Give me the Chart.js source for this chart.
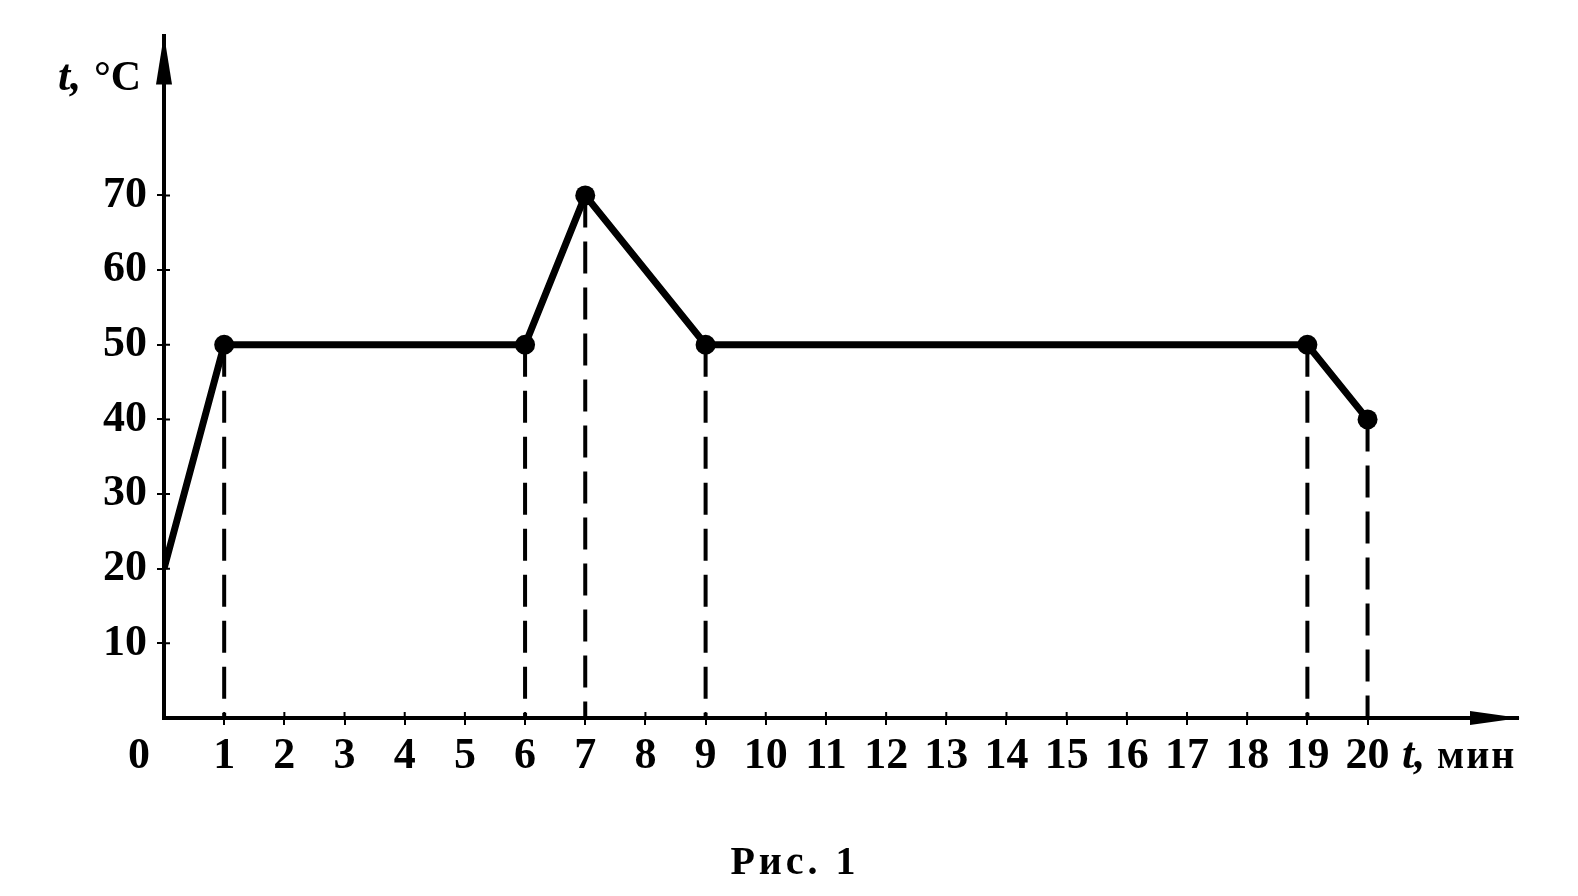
<!DOCTYPE html>
<html lang="ru">
<head>
<meta charset="UTF-8">
<title>Рис. 1</title>
<script src="https://cdn.jsdelivr.net/npm/chart.js"></script>
<style>
    body { margin: 0; background: #fff; }
    .wrap { position: relative; width: 1578px; height: 896px; }
</style>
</head>
<body>
<div class="wrap"><canvas id="chart"></canvas></div>
<script>
// time, min
const times = [0, 1, 6, 7, 9, 19, 20];
// temperature, °C
const temps = [20, 50, 50, 70, 50, 50, 40];
// axis tick values
const xTicks = [1, 2, 3, 4, 5, 6, 7, 8, 9, 10, 11, 12, 13, 14, 15, 16, 17, 18, 19, 20];
const yTicks = [10, 20, 30, 40, 50, 60, 70];

const FONT = 'Liberation Serif, Times New Roman, serif';
const tickFont = { family: FONT, weight: 'bold', size: 44 };

const points = times.map((t, i) => ({ x: t, y: temps[i] }));

// dashed drop lines from each marked point to the time axis
const drops = points.slice(1).map(p => ({
    data: [{ x: p.x, y: p.y }, { x: p.x, y: 0 }],
    borderColor: '#000',
    borderWidth: 4,
    borderDash: [32, 14],
    pointRadius: 0,
    fill: false
}));

// arrows, zero label, inner tick marks, axis names and caption
const decor = {
    id: 'decor',
    afterDraw(chart) {
        const ctx = chart.ctx;
        const xs = chart.scales.x, ys = chart.scales.y;
        const ox = xs.getPixelForValue(0), oy = ys.getPixelForValue(0);
        const top = chart.chartArea.top, right = chart.chartArea.right;
        ctx.save();
        ctx.fillStyle = '#000';
        ctx.strokeStyle = '#000';
        ctx.lineWidth = 2;
        // tick marks on the inner side of the axes
        ctx.beginPath();
        xTicks.forEach(v => {
            const px = xs.getPixelForValue(v);
            ctx.moveTo(px, oy);
            ctx.lineTo(px, oy - 6);
        });
        yTicks.forEach(v => {
            const py = ys.getPixelForValue(v);
            ctx.moveTo(ox, py);
            ctx.lineTo(ox + 6, py);
        });
        ctx.stroke();

        // y arrow
        ctx.beginPath();
        ctx.moveTo(ox, top - 2);
        ctx.lineTo(ox - 8, top + 48);
        ctx.lineTo(ox + 8, top + 48);
        ctx.closePath();
        ctx.fill();
        // x arrow
        ctx.beginPath();
        ctx.moveTo(right + 2, oy);
        ctx.lineTo(right - 48, oy - 7);
        ctx.lineTo(right - 48, oy + 7);
        ctx.closePath();
        ctx.fill();

        ctx.textBaseline = 'alphabetic';
        ctx.font = 'bold 44px ' + FONT;
        ctx.textAlign = 'center';
        ctx.fillText('0', ox - 25, oy + 50);

        // y title
        ctx.textAlign = 'left';
        ctx.font = 'italic bold 44px ' + FONT;
        ctx.fillText('t,', 58, 90);
        ctx.font = 'bold 42px ' + FONT;
        ctx.fillText('°C', 94, 90);

        // x title
        ctx.font = 'italic bold 44px ' + FONT;
        ctx.fillText('t,', 1402, oy + 50);
        ctx.font = 'bold 40px ' + FONT;
        ctx.letterSpacing = '2px';
        ctx.fillText('мин', 1437, oy + 50);

        // caption
        ctx.textAlign = 'center';
        ctx.font = 'bold 40px ' + FONT;
        ctx.letterSpacing = '4px';
        ctx.fillText('Рис. 1', 795, 874);
        ctx.restore();
    }
};

new Chart(document.getElementById('chart'), {
    type: 'line',
    data: {
        datasets: [{
            data: points,
            borderColor: '#000',
            borderWidth: 7,
            backgroundColor: '#000',
            pointBackgroundColor: '#000',
            pointBorderWidth: 0,
            pointRadius: c => c.dataIndex === 0 ? 0 : 10,
            fill: false,
            tension: 0
        }, ...drops]
    },
    options: {
        responsive: true,
        maintainAspectRatio: false,
        animation: false,
        layout: { padding: { left: 0, top: 35, right: 60, bottom: 118 } },
        plugins: { legend: { display: false }, tooltip: { enabled: false } },
        scales: {
            x: {
                type: 'linear',
                min: 0,
                max: 22.5,
                afterBuildTicks: s => { s.ticks = xTicks.map(v => ({ value: v })); },
                afterFit: s => { s.height = 60; },
                border: { color: '#000', width: 4 },
                grid: { drawOnChartArea: false, color: '#000', lineWidth: 2, tickLength: 7 },
                ticks: { color: '#000', font: tickFont, padding: 5, maxRotation: 0, autoSkip: false }
            },
            y: {
                type: 'linear',
                min: 0,
                max: 91.3,
                afterBuildTicks: s => { s.ticks = yTicks.map(v => ({ value: v })); },
                afterFit: s => { s.width = 164; },
                border: { color: '#000', width: 4 },
                grid: { drawOnChartArea: false, color: '#000', lineWidth: 2, tickLength: 7 },
                ticks: { color: '#000', font: tickFont, padding: 10 }
            }
        }
    },
    plugins: [decor]
});
</script>
</body>
</html>
